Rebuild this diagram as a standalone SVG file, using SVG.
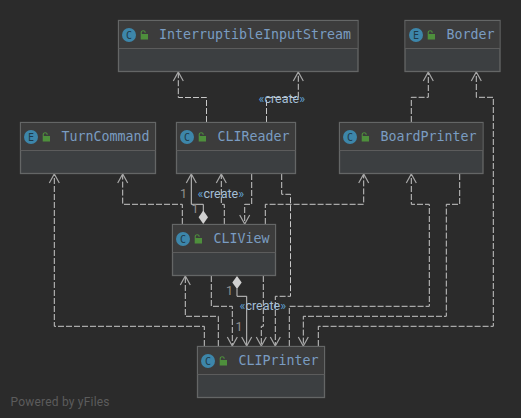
<svg xmlns="http://www.w3.org/2000/svg" width="521" height="418" viewBox="0 0 521 418">
<style>
.box{fill:#3c3f41;stroke:#646666;stroke-width:1.3}
.head{fill:#3c3c3c}
.div{stroke:#5c5c5c;stroke-width:1.2;fill:none}
.icon{fill:#3d86aa}
.ic{font:10px "DejaVu Sans Mono",monospace;fill:#1f3a48;text-anchor:middle}
.lk{fill:#4e8f3c}
.lks{fill:none;stroke:#4e8f3c;stroke-width:1.1}
.t{font:13.3px "DejaVu Sans Mono",monospace;fill:#7a9cc2}
.d{fill:none;stroke:#c8c8c8;stroke-width:1;stroke-dasharray:6 2}
.s{fill:none;stroke:#c8c8c8;stroke-width:1}
.a{fill:none;stroke:#a8a8a8;stroke-width:1.2}
.dia{fill:#d0d0d0}
.n{font:12.5px "Roboto",sans-serif;fill:#8f8f8f}
.c{font:12.5px "Roboto",sans-serif;fill:#a4bfd6}
.g{fill:#5f9fd0}
</style>
<defs>
<g id="lock"><rect x="-3.3" y="-2" width="7.3" height="5.5" class="lk"/><path d="M-2.8-2V-3.3a2 2 0 0 1 4 0" class="lks"/></g>
<path id="up" d="M-5 9L0 0L5 9" class="a"/>
<path id="dn" d="M-5-9L0 0L5-9" class="a"/>
</defs>
<rect width="521" height="418" fill="#2b2b2b"/>

<g id="connectors">
<path class="d" d="M206.5 122V97.5H178.3V72"/>
<path class="d" d="M266.5 122V97.5H298.3V72"/>
<path class="d" d="M204.3 346V326.3H54.3V174"/>
<path class="d" d="M182.3 224V204.3H122.7V174"/>
<path class="s" d="M203.3 212V204.3H191.3V174"/>
<path class="d" d="M224.3 224V204.3H221.3V174"/>
<path class="d" d="M251.7 174V204.3H244.7V224"/>
<path class="d" d="M281.7 174V194.3H290.5V296.3H275.3V346"/>
<path class="d" d="M265.3 224V204.3H363.7V174"/>
<path class="d" d="M289.3 346V306.3H429.3V204.3H411.3V174"/>
<path class="d" d="M459.7 174V204.3H446.3V316.3H303.3V346"/>
<path class="d" d="M318.3 346V326.3H493.3V97.3H476.3V72"/>
<path class="d" d="M411.3 122V97.3H428.3V72"/>
<path class="d" d="M218.3 346V316.3H185.3V276"/>
<path class="d" d="M211.3 276V306.3H232.3V346"/>
<path class="s" d="M237 288.7V296.3H246.7V346"/>
<path class="d" d="M263.3 276V326.3H261.3V346"/>
<use href="#up" x="178.3" y="72"/><use href="#up" x="298.3" y="72"/><use href="#up" x="428.3" y="72"/><use href="#up" x="476.3" y="72"/>
<use href="#up" x="54.3" y="174"/><use href="#up" x="122.7" y="174"/><use href="#up" x="191.3" y="174"/><use href="#up" x="221.3" y="174"/><use href="#up" x="363.7" y="174"/><use href="#up" x="411.3" y="174"/><use href="#up" x="185.3" y="276"/>
<use href="#dn" x="244.7" y="224"/><use href="#dn" x="232.3" y="346"/><use href="#dn" x="246.7" y="346"/><use href="#dn" x="261.3" y="346"/><use href="#dn" x="275.3" y="346"/><use href="#dn" x="303.3" y="346"/>
<path class="dia" d="M203.3 210.5L208 217.3L203.3 224L198.6 217.3Z"/>
<path class="dia" d="M237 276L241.7 282.5L237 289L232.3 282.5Z"/>
<text class="n" x="180" y="198">1</text>
<text class="n" x="191.5" y="213">1</text>
<text class="n" x="226" y="295">1</text>
<text class="n" x="235.5" y="331">1</text>
<text class="c" x="197.5" y="198"><tspan class="g">«</tspan>create<tspan class="g">»</tspan></text>
<text class="c" x="258.5" y="103"><tspan class="g">«</tspan>create<tspan class="g">»</tspan></text>
<text class="c" x="239.5" y="310"><tspan class="g">«</tspan>create<tspan class="g">»</tspan></text>
</g>

<g id="InterruptibleInputStream">
<rect class="box" x="118.5" y="20.5" width="239.5" height="51"/><rect class="head" x="119" y="21" width="238.5" height="27.5"/><path class="div" d="M118.5 48.5H358"/>
<circle class="icon" cx="129" cy="35" r="7"/><text class="ic" x="129" y="38.5">C</text><use href="#lock" x="144" y="36"/>
<text class="t" x="159" y="39">InterruptibleInputStream</text>
</g>
<g id="Border">
<rect class="box" x="405" y="20.5" width="95" height="51"/><rect class="head" x="405.5" y="21" width="94" height="27.5"/><path class="div" d="M405 48.5H500"/>
<circle class="icon" cx="416" cy="35" r="7"/><text class="ic" x="416" y="38.5">E</text><use href="#lock" x="431" y="36"/>
<text class="t" x="446.5" y="39">Border</text>
</g>
<g id="TurnCommand">
<rect class="box" x="20.5" y="122.5" width="135" height="51"/><rect class="head" x="21" y="123" width="134" height="27.5"/><path class="div" d="M20.5 150.5H155.5"/>
<circle class="icon" cx="31" cy="137" r="7"/><text class="ic" x="31" y="140.5">E</text><use href="#lock" x="46" y="138"/>
<text class="t" x="61.5" y="141">TurnCommand</text>
</g>
<g id="CLIReader">
<rect class="box" x="176.5" y="122.5" width="119" height="51"/><rect class="head" x="177" y="123" width="118" height="27.5"/><path class="div" d="M176.5 150.5H295.5"/>
<circle class="icon" cx="187" cy="137" r="7"/><text class="ic" x="187" y="140.5">C</text><use href="#lock" x="202" y="138"/>
<text class="t" x="217.5" y="141">CLIReader</text>
</g>
<g id="BoardPrinter">
<rect class="box" x="339.5" y="122.5" width="143.5" height="51"/><rect class="head" x="340" y="123" width="142.5" height="27.5"/><path class="div" d="M339.5 150.5H483"/>
<circle class="icon" cx="350" cy="137" r="7"/><text class="ic" x="350" y="140.5">C</text><use href="#lock" x="365" y="138"/>
<text class="t" x="380.5" y="141">BoardPrinter</text>
</g>
<g id="CLIView">
<rect class="box" x="172.5" y="224.5" width="103" height="51"/><rect class="head" x="173" y="225" width="102" height="27.5"/><path class="div" d="M172.5 252.5H275.5"/>
<circle class="icon" cx="183" cy="239" r="7"/><text class="ic" x="183" y="242.5">C</text><use href="#lock" x="198" y="240"/>
<text class="t" x="213.5" y="243">CLIView</text>
</g>
<g id="CLIPrinter">
<rect class="box" x="197.5" y="346.5" width="127" height="51"/><rect class="head" x="198" y="347" width="126" height="27.5"/><path class="div" d="M197.5 374.5H324.5"/>
<circle class="icon" cx="208" cy="361" r="7"/><text class="ic" x="208" y="364.5">C</text><use href="#lock" x="223" y="362"/>
<text class="t" x="238.5" y="365">CLIPrinter</text>
</g>
<text x="10.5" y="406" font-family="Roboto,sans-serif" font-size="12" letter-spacing=".2" fill="#5c5c5c">Powered by yFiles</text>
</svg>
